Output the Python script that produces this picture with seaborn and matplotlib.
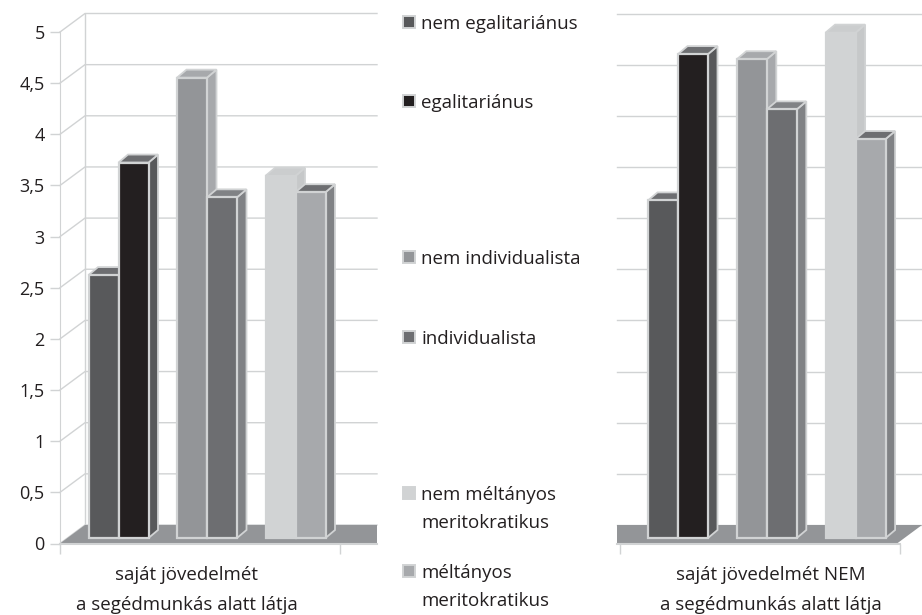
import matplotlib
matplotlib.use("Agg")
import matplotlib.pyplot as plt
from matplotlib.patches import Polygon, Rectangle
import pandas as pd
import seaborn as sns

# adatok
csoportok = ["egalitarizmus", "individualizmus", "meritokracia"]
parok = ["nem", "igen"]
bal_nem = [2.57, 4.50, 3.54]
bal_igen = [3.67, 3.33, 3.38]
jobb_nem = [3.30, 4.68, 4.94]
jobb_igen = [4.73, 4.19, 3.90]

tick_ertekek = [0, 0.5, 1, 1.5, 2, 2.5, 3, 3.5, 4, 4.5, 5]
tick_cimkek = ["0", "0,5", "1", "1,5", "2", "2,5", "3", "3,5", "4", "4,5", "5"]

# szinek: elolap, oldal, teteje, sorrendben a hat oszlop
elo = ["#58595b", "#231f20", "#939598", "#6d6e71", "#d1d3d4", "#a7a9ac"]
oldal = ["#58595b", "#58595b", "#a7a9ac", "#808285", "#c6c8c9", "#808285"]
teto = ["#6d6e71", "#6d6e71", "#a7a9ac", "#808285", "#cbcdce", "#6d6e71"]
PADLO = "#939598"
VONAL = "#d1d3d4"
SZOVEG = "#231f20"
FONT = "Open Sans"

W, H = 922, 615
plt.rcParams["font.family"] = FONT
fig = plt.figure(figsize=(W / 100, H / 100), dpi=100)

SKALA = 102.3  # px / egyseg
Y0 = 543.5


def tengely(bal_px, jobb_px):
    felso = Y0 - 5.2 * SKALA
    ax = fig.add_axes([bal_px / W, 1 - Y0 / H, (jobb_px - bal_px) / W, (Y0 - felso) / H])
    ax.patch.set_alpha(0)
    return ax


def panel(ax, nem, igen, kozep0, periodus, bal_px, jobb_px, jobb_fal=False):
    df = pd.DataFrame({
        "csoport": csoportok * 2,
        "par": [parok[0]] * 3 + [parok[1]] * 3,
        "ertek": nem + igen,
    })
    sns.barplot(data=df, x="csoport", y="ertek", hue="par", hue_order=parok,
                order=csoportok, width=60 / periodus, legend=False, ax=ax)
    xd = lambda px: (px - kozep0) / periodus
    xmin, xmax = xd(bal_px), xd(jobb_px)
    ax.set_xlim(xmin, xmax)
    ax.set_ylim(0, 5.2)
    ax.set_xlabel("")
    ax.set_ylabel("")

    fal_dx, fal_dy = 25 / periodus, 18.5 / SKALA
    mely_dx, mely_dy = 9.5 / periodus, 8 / SKALA
    emeles = 5.5 / SKALA

    # hatso fal es padlo
    for t in tick_ertekek:
        if jobb_fal:
            ax.plot([xmin, xmax], [t + fal_dy] * 2, color=VONAL, lw=1, clip_on=False, zorder=1)
        else:
            ax.plot([xmin, xmin + fal_dx, xmax], [t, t + fal_dy, t + fal_dy],
                    color=VONAL, lw=1, clip_on=False, zorder=1)
    if jobb_fal:
        padlo = [(xmin, 0), (xmin, fal_dy), (xmax, fal_dy), (xmax - fal_dx, 0)]
    else:
        ax.plot([xmin + fal_dx] * 2, [fal_dy, 5 + fal_dy], color=VONAL, lw=1, zorder=1, clip_on=False)
        padlo = [(xmin, 0), (xmin + fal_dx, fal_dy), (xmax, fal_dy), (xmax, 0)]
    ax.add_patch(Polygon(padlo, closed=True, fc=PADLO, ec="none", zorder=1.5))

    # oszlopok terhatasa a seaborn oszlopaibol
    oszlopok = sorted([p for p in ax.patches if isinstance(p, Rectangle)], key=lambda p: p.get_x())
    for i, p in enumerate(oszlopok):
        x, w, h = p.get_x(), p.get_width(), p.get_height()
        y = p.get_y() + emeles
        p.set_y(y)
        p.set_facecolor(elo[i])
        p.set_edgecolor(VONAL)
        p.set_linewidth(1.6)
        p.set_zorder(3 + i + 0.5)
        ax.add_patch(Polygon([(x + w, y), (x + w + mely_dx, y + mely_dy),
                              (x + w + mely_dx, y + h + mely_dy), (x + w, y + h)],
                             closed=True, fc=oldal[i], ec=VONAL, lw=1.3, zorder=3 + i))
        ax.add_patch(Polygon([(x, y + h), (x + mely_dx, y + h + mely_dy),
                              (x + w + mely_dx, y + h + mely_dy), (x + w, y + h)],
                             closed=True, fc=teto[i], ec=VONAL, lw=1.3, zorder=3 + i))

    for s in ["top", "right", "left"]:
        ax.spines[s].set_visible(False)
    ax.spines["bottom"].set_color(VONAL)
    ax.spines["bottom"].set_linewidth(1.5)
    ax.spines["bottom"].set_zorder(2)
    return xd, xmin, xmax


# bal panel
ax1 = tengely(60, 377)
xd, xmin, xmax = panel(ax1, bal_nem, bal_igen, 118.5, 88.5, 60, 377)
ax1.set_xticks([xd(60), xd(340)], ["", ""])
ax1.tick_params(axis="x", length=7, width=1, color=VONAL)
ax1.set_yticks(tick_ertekek, tick_cimkek)
ax1.tick_params(axis="y", length=7, width=1, color=VONAL, pad=4, labelsize=13, labelcolor=SZOVEG)
ax1.spines["left"].set_visible(True)
ax1.spines["left"].set_bounds(0, 5)
ax1.spines["left"].set_color(VONAL)
ax1.spines["bottom"].set_bounds(xmin, xmax)

# jobb panel
ax2 = tengely(617, 922)
xd, xmin, xmax = panel(ax2, jobb_nem, jobb_igen, 678, 88.8, 617, 922, jobb_fal=True)
ax2.set_xticks([xd(620), xd(900)], ["", ""])
ax2.tick_params(axis="x", length=7, width=1, color=VONAL)
ax2.set_yticks([])
ax2.spines["bottom"].set_bounds(xmin, xd(900))


def szoveg(x, y, s, **kw):
    fig.text(x / W, 1 - y / H, s, fontsize=13.5, color=SZOVEG, va="center", **kw)


szoveg(186, 575, "saját jövedelmét", ha="center")
szoveg(187, 605, "a segédmunkás alatt látja", ha="center")
szoveg(771, 575, "saját jövedelmét NEM", ha="center")
szoveg(771, 605, "a segédmunkás alatt látja", ha="center")

# jelmagyarazat
jel_sorok = [
    (24, ["nem egalitariánus"]),
    (103, ["egalitariánus"]),
    (259, ["nem individualista"]),
    (339, ["individualista"]),
    (495, ["nem méltányos", "meritokratikus"]),
    (573, ["méltányos", "meritokratikus"]),
]
for (y, sorok), szin in zip(jel_sorok, elo):
    fig.add_artist(Rectangle((403 / W, 1 - (y + 4) / H), 12 / W, 12 / H,
                             transform=fig.transFigure, fc=szin, ec=VONAL, lw=1.4))
    for j, s in enumerate(sorok):
        szoveg(421, y + j * 28, s, ha="left")

fig.savefig("out.png", dpi=100, facecolor="white")
